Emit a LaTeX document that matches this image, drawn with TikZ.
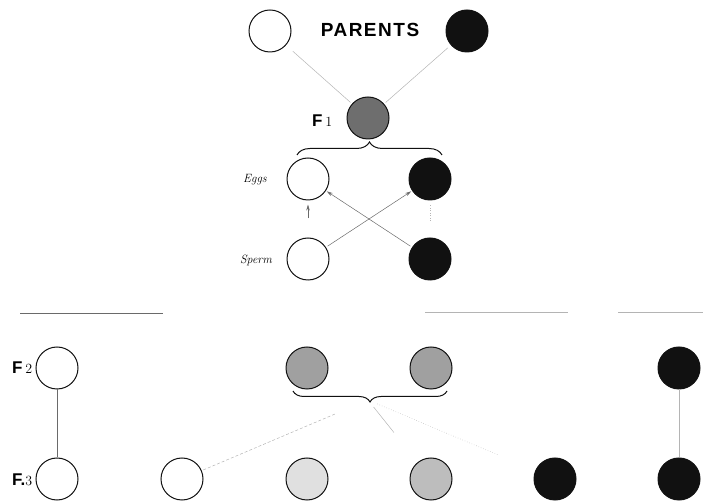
\documentclass[tikz,border=0pt]{standalone}
\usepackage{fontspec}
\usetikzlibrary{arrows.meta,decorations.pathreplacing,calc}
\newfontfamily\headfont[LetterSpace=8]{Liberation Sans}
\newfontfamily\genfont{Liberation Sans}
\definecolor{Ink}{HTML}{111111}
\definecolor{Faint}{HTML}{B4B4B4}
\definecolor{Rule}{HTML}{6A6A6A}
\definecolor{HybDark}{HTML}{6E6E6E}
\definecolor{HybMid}{HTML}{A0A0A0}
\definecolor{HybPale}{HTML}{BDBDBD}
\definecolor{HybLight}{HTML}{E0E0E0}
\newcommand{\gnum}[1]{{\rmfamily\mdseries\fontsize{14}{14}\selectfont #1}}
\tikzset{
  ball/.style={circle,draw=Ink,line width=1pt,minimum size=42pt,inner sep=0pt},
  wball/.style={ball,fill=white},
  bball/.style={ball,fill=Ink},
  gen/.style={font=\genfont\bfseries\fontsize{17}{17}\selectfont,inner sep=0pt},
  cell/.style={font=\itshape\fontsize{12}{12}\selectfont,inner sep=0pt},
  conn/.style={draw=Faint,line width=0.5pt},
  arr/.style={-{Stealth[length=6pt,width=3.5pt]},draw=Rule,line width=0.5pt},
  brc/.style={decorate,decoration={brace,amplitude=13pt},draw=Ink,line width=1pt},
}
\begin{document}
\begin{tikzpicture}[x=1pt,y=-1pt]
\useasboundingbox (0,0) rectangle (710,502);
% parents and first cross
\node[wball] (pw) at (270,31) {};
\node[bball] (pb) at (467,31) {};
\node[font=\headfont\bfseries\fontsize{19}{19}\selectfont] (par) at (370,30) {PARENTS};
\node[ball,fill=HybDark] (f1) at (368,118) {};
\node[gen,anchor=east] (lf1) at ($(f1.west)+(-14,3)$) {F\,\gnum{1}};
\draw[conn,shorten <=9pt,shorten >=2pt] (pw)--(f1);
\draw[conn,shorten <=4pt,shorten >=2pt] (pb)--(f1);
% gametes of F1
\node[wball] (ew) at (308,179) {};
\node[bball] (eb) at (430,179) {};
\node[wball] (sw) at (308,259) {};
\node[bball] (sb) at (430,259) {};
\node[cell] (le) at (255,180) {Eggs};
\node[cell] (ls) at (256,260) {Sperm};
\coordinate (b1l) at (297,155);
\coordinate (b1r) at (442,155);
\draw[brc] (b1l)--(b1r);
\draw[arr,shorten <=19pt,shorten >=4pt] (sw)--(ew);
\draw[arr,shorten <=2pt,shorten >=1pt] (sw)--(eb);
\draw[arr,shorten <=2pt,shorten >=1pt] (sb)--(ew);
\draw[conn,dotted,shorten <=5pt,shorten >=16pt] (eb)--(sb);
% separators
\draw[Rule,line width=0.6pt] (20,313)--(163,313);
\draw[Faint,line width=0.6pt] (425,312)--(568,312);
\draw[Faint,line width=0.6pt] (618,312)--(703,312);
% F2 row
\node[wball] (a1) at (57,368) {};
\node[ball,fill=HybMid] (a2) at (307,368) {};
\node[ball,fill=HybMid] (a3) at (431,368) {};
\node[bball] (a4) at (679,368) {};
\node[gen,anchor=east] (lf2) at ($(a1.west)+(-3,0)$) {F\,\gnum{2}};
\coordinate (b2r) at (447,391);
\coordinate (b2l) at (293,391);
\draw[brc,decoration={amplitude=11pt}] (b2r)--(b2l);
\coordinate (tip) at (368,400);
% F3 row
\node[wball] (c1) at (57,479) {};
\node[wball] (c2) at (182,479) {};
\node[ball,fill=HybLight] (c3) at (307,479) {};
\node[ball,fill=HybPale] (c4) at (431,479) {};
\node[bball] (c5) at (555,479) {};
\node[bball] (c6) at (679,479) {};
\node[gen,anchor=east] (lf3) at ($(c1.west)+(-3,1)$) {F.\gnum{3}};
\draw[Rule,line width=0.5pt] (a1)--(c1);
\draw[conn] (a4)--(c6);
\draw[conn,densely dashed,shorten <=36pt] (tip)--(c2);
\draw[conn,shorten <=9pt,shorten >=38pt] (tip)--(c4);
\draw[conn,dotted,shorten <=10pt,shorten >=40pt] (tip)--(c5);
\end{tikzpicture}
\end{document}
